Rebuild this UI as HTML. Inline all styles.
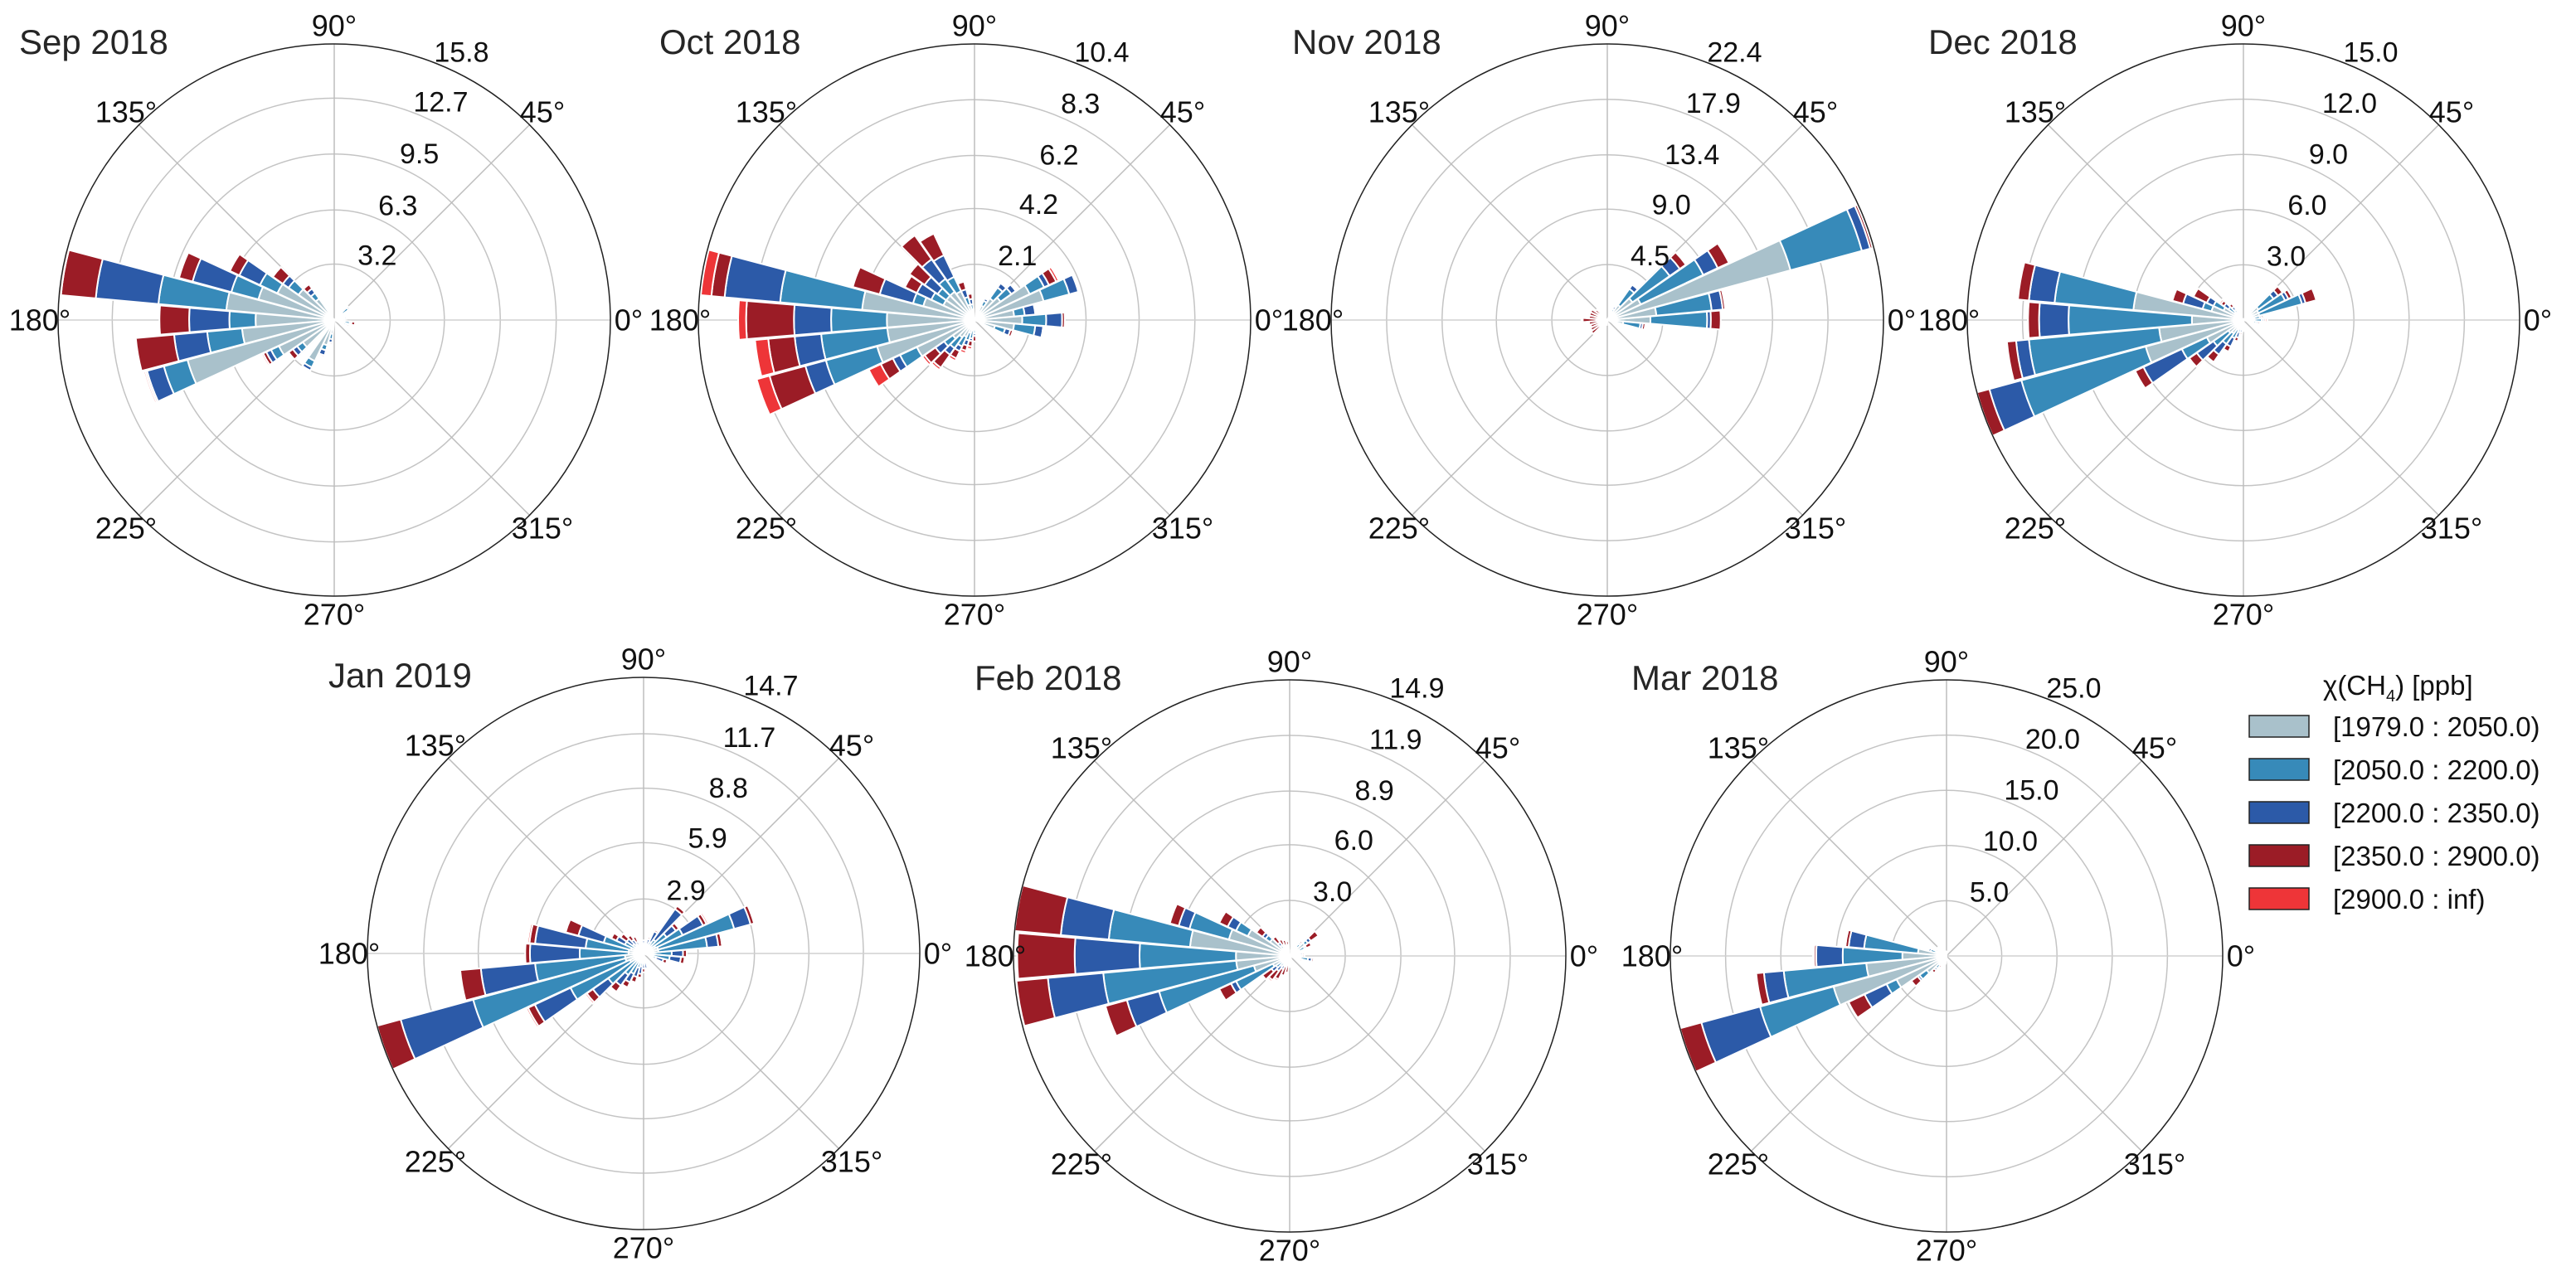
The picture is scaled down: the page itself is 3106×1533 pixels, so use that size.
<!DOCTYPE html>
<html><head><meta charset="utf-8"><style>
html,body{margin:0;padding:0;background:#fff;}
svg{display:block;font-family:"Liberation Sans",sans-serif;}
</style></head><body>
<svg id="chart" width="3106" height="1533" viewBox="0 0 3106 1533" xmlns="http://www.w3.org/2000/svg"></svg>
<script>
// ---- data (direction bins in degrees, stacked frequencies per CH4 class) ----
const sepDirs=[40,130,140,150,160,170,180,190,200,210,220,240,250,260,340,350,10];
const sepC1=[0.6,1.5,2.5,3.6,4.5,6.2,4.5,5.3,8.7,3.5,2.2,2.6,1.5,0.8,0.5,0.6,0.4];
const sepC2=[0.4,0.4,0.7,1.1,1.6,3.9,1.5,2.0,1.4,0.5,0.4,0.4,0.3,0.3,0.2,0.3,0.2];
const sepC3=[0.1,0.3,0.4,1.3,2.3,3.6,2.3,1.9,1.0,0.3,0.3,0.2,0.3,0.2,0.1,0.1,0.1];
const sepC4=[0,0.3,0.7,0.6,0.8,2.0,1.7,2.2,0.1,0.2,0.3,0,0.1,0.1,0.1,0.2,0];
const sepC5=[0,0,0,0,0,0.1,0,0,0.1,0.1,0,0,0,0,0,0,0];

const octDirs=[0,10,20,30,40,50,60,100,110,120,130,140,150,160,170,180,190,200,210,220,230,240,250,260,270,340,350];
const octC1=[1.8,1.5,2.7,2.3,1.2,1.0,0.6,0.4,0.6,1.2,1.3,1.3,1.3,2.0,4.25,3.3,3.3,3.8,2.4,1.0,0.8,0.7,0.5,0.4,0.3,0.8,1.5];
const octC2=[0.9,0.4,1.0,0.6,0.5,0.5,0.2,0.2,0.3,0.6,0.6,0.4,0.5,0.4,3.1,2.1,2.5,2.0,0.7,0.4,0.5,0.4,0.3,0.3,0.2,0.4,0.8];
const octC3=[0.6,0.4,0.35,0.2,0.2,0.2,0.1,0.2,0.3,0.9,0.9,0.6,0.6,1.3,2.1,1.4,1.0,0.8,0.3,0.4,0.3,0.2,0.2,0.1,0.1,0.2,0.3];
const octC4=[0.1,0,0,0.3,0,0,0,0.2,0.3,0.9,1.1,0.7,0.5,1.05,0.5,1.8,1.0,1.4,0.5,0.5,0.6,0.3,0.2,0.2,0.2,0.1,0.05];
const octC5=[0,0,0,0.1,0,0,0,0,0,0,0,0,0,0,0.4,0.3,0.5,0.5,0.5,0.1,0.1,0.1,0.1,0.1,0,0,0];

const novDirs=[0,10,20,30,40,50,60,140,150,160,170,180,190,200,210,220,230,350,340,250,260];
const novC1=[3.5,4.0,15.4,3.0,2.5,1.5,0.5,0.2,0.2,0.2,0.2,0.3,0.2,0.2,0.2,0.2,0.1,1.3,0.4,0.1,0.1];
const novC2=[4.6,4.5,6.0,5.6,3.7,1.6,0.5,0.2,0.2,0.2,0.2,0.3,0.2,0.2,0.2,0.2,0.1,1.4,0.3,0.1,0.1];
const novC3=[0.3,0.9,0.7,1.3,1.0,0.4,0.2,0.2,0.2,0.3,0.3,0.3,0.3,0.2,0.2,0.2,0.1,0.2,0.1,0.1,0.1];
const novC4=[0.8,0.2,0.2,1.0,0.6,0,0,0.6,0.9,0.8,0.8,1.1,0.8,0.8,0.9,1.0,0.5,0.2,0,0.1,0.1];
const novC5=[0,0,0.1,0,0,0,0,0,0,0,0,0.1,0.1,0,0,0,0,0,0,0,0];

const decDirs=[0,10,20,30,40,50,130,140,150,160,170,180,190,200,210,220,230,240,250,260,270,350];
const decC1=[0.6,0.6,0.9,0.9,1.0,0.4,0.4,0.6,1.2,1.8,6.0,2.8,4.6,5.5,2.2,1.0,0.9,0.6,0.4,0.3,0.2,0.4];
const decC2=[0.4,0.3,2.4,1.6,1.0,0.2,0.3,0.4,0.6,0.5,4.3,6.7,7.1,7.0,1.5,1.0,0.7,0.5,0.3,0.2,0.2,0.3];
const decC3=[0.1,0.1,0.2,0.2,0.3,0.1,0.2,0.3,0.4,1.1,1.4,1.6,0.7,1.8,2.3,1.1,0.7,0.5,0.3,0.2,0.1,0.1];
const decC4=[0.1,0.1,0.6,0.2,0.3,0,0.2,0.2,0.8,0.6,0.6,0.6,0.5,0.7,0.5,0.5,0.5,0.3,0.2,0.1,0.1,0.1];
const decC5=[0.1,0,0,0,0,0,0,0.1,0,0,0,0,0,0,0,0,0,0,0,0,0,0];

const janDirs=[0,10,20,30,40,50,60,70,90,120,130,140,150,160,170,180,190,200,210,220,230,240,250,260,270,280,340,350];
const janC1=[0.5,0.8,0.8,0.7,0.5,0.3,0.3,0.2,0.2,0.3,0.3,0.3,0.5,0.7,0.8,0.8,1.0,1.0,0.8,0.5,0.4,0.4,0.3,0.3,0.2,0.2,0.3,0.4];
const janC2=[1.0,2.6,4.2,1.6,1.0,0.6,0.4,0.3,0.3,0.2,0.3,0.4,0.6,1.5,2.3,2.6,4.8,8.4,3.5,1.8,1.0,0.8,0.5,0.4,0.3,0.3,0.4,1.0];
const janC3=[0.6,0.6,0.9,1.2,0.6,2.0,0.6,0.3,0.2,0.2,0.3,0.4,0.5,1.4,2.7,2.65,2.9,4.0,2.1,1.0,0.7,0.5,0.5,0.4,0.3,0.3,0.4,0.6];
const janC4=[0.2,0.2,0.2,0.2,0.2,0.2,0.1,0.1,0,0.3,0.3,0.4,0.3,0.7,0.3,0.25,1.1,1.3,0.4,0.4,0.4,0.3,0.3,0.2,0.2,0,0.2,0.2];
const janC5=[0,0.05,0.05,0.1,0,0,0,0,0,0,0,0,0,0,0.1,0,0,0,0.1,0.1,0,0,0,0,0,0,0,0];

const febDirs=[30,40,50,100,110,120,130,140,150,160,170,180,190,200,210,220,230,240,250,260,270,350,0,10,340,290];
const febC1=[0.6,1.0,0.6,0.3,0.3,0.4,0.5,1.3,2.5,3.4,5.4,2.9,2.9,2.0,1.0,0.5,0.4,0.3,0.2,0.2,0.2,0.6,0.4,0.4,0.3,0.2];
const febC2=[0.3,0.2,0.2,0.2,0.2,0.2,0.2,0.3,0.7,2.2,4.4,5.2,7.2,5.3,2.2,0.4,0.3,0.3,0.2,0.2,0.1,0.4,0.2,0.2,0.2,0.1];
const febC3=[0.1,0.2,0.1,0.1,0.1,0.1,0.2,0.2,0.5,0.6,2.6,3.5,3.0,1.8,0.3,0.3,0.3,0.2,0.2,0.1,0.1,0.2,0.1,0.1,0.1,0.1];
const febC4=[0.3,0.5,0.1,0.2,0.3,0.3,0.4,0.4,0.5,0.5,2.5,3.1,1.7,1.2,0.7,0.6,0.6,0.6,0.5,0.4,0.2,0.1,0.1,0.1,0.1,0.1];
const febC5=[0,0,0,0,0,0,0,0,0,0,0,0,0,0,0,0,0.1,0.1,0,0,0,0,0,0,0,0];

const marDirs=[150,160,170,180,190,200,210,220,230,240,250,260,270,110,120,130,140,90,100];
const marC1=[0.6,1.0,2.6,4.0,7.3,10.6,5.0,2.2,1.0,0.6,0.4,0.3,0.2,0.3,0.3,0.4,0.5,0.2,0.2];
const marC2=[0.3,0.5,4.9,5.4,7.5,6.9,1.0,0.8,0.4,0.3,0.2,0.2,0.1,0.2,0.2,0.2,0.3,0.1,0.1];
const marC3=[0.2,0.2,1.4,2.4,1.8,5.5,2.2,0.2,0.2,0.1,0.1,0.1,0.1,0.1,0.1,0.1,0.2,0.1,0.1];
const marC4=[0.1,0.1,0.3,0.2,0.7,2.0,1.6,0.7,0.3,0.2,0.1,0.1,0,0,0.1,0.1,0.1,0,0];
const marC5=[0,0,0.1,0.1,0,0,0,0,0,0,0,0,0,0,0,0,0,0,0];

// radial tick labels per panel
const sepTicks=["3.2","6.3","9.5","12.7","15.8"];
const octTicks=["2.1","4.2","6.2","8.3","10.4"];
const novTicks=["4.5","9.0","13.4","17.9","22.4"];
const decTicks=["3.0","6.0","9.0","12.0","15.0"];
const janTicks=["2.9","5.9","8.8","11.7","14.7"];
const febTicks=["3.0","6.0","8.9","11.9","14.9"];
const marTicks=["5.0","10.0","15.0","20.0","25.0"];
const angleLabels=["0°","45°","90°","135°","180°","225°","270°","315°"];
const classLabels=["[1979.0 : 2050.0)","[2050.0 : 2200.0)","[2200.0 : 2350.0)","[2350.0 : 2900.0)","[2900.0 : inf)"];
const classColors=["#a9c1cb","#378ab9","#2c5aa8","#9b1c26","#ee3538"];

const NS="http://www.w3.org/2000/svg";
const svg=document.getElementById('chart');
const R=333;
function mk(tag,attrs,parent){const e=document.createElementNS(NS,tag);for(const k in attrs)e.setAttribute(k,attrs[k]);(parent||svg).appendChild(e);return e;}

const panels=[
 {key:"sep",title:"Sep 2018",cx:403,cy:386,ticks:sepTicks,dirs:sepDirs,series:[sepC1,sepC2,sepC3,sepC4,sepC5]},
 {key:"oct",title:"Oct 2018",cx:1175,cy:386,ticks:octTicks,dirs:octDirs,series:[octC1,octC2,octC3,octC4,octC5]},
 {key:"nov",title:"Nov 2018",cx:1938,cy:386,ticks:novTicks,dirs:novDirs,series:[novC1,novC2,novC3,novC4,novC5]},
 {key:"dec",title:"Dec 2018",cx:2705,cy:386,ticks:decTicks,dirs:decDirs,series:[decC1,decC2,decC3,decC4,decC5]},
 {key:"jan",title:"Jan 2019",cx:776,cy:1150,ticks:janTicks,dirs:janDirs,series:[janC1,janC2,janC3,janC4,janC5]},
 {key:"feb",title:"Feb 2018",cx:1555,cy:1153,ticks:febTicks,dirs:febDirs,series:[febC1,febC2,febC3,febC4,febC5]},
 {key:"mar",title:"Mar 2018",cx:2347,cy:1153,ticks:marTicks,dirs:marDirs,series:[marC1,marC2,marC3,marC4,marC5]}
];

function wedge(cx,cy,r0,r1,aDeg,wDeg){
  const a0=(aDeg-wDeg/2)*Math.PI/180,a1=(aDeg+wDeg/2)*Math.PI/180;
  const p=(r,a)=>[cx+r*Math.cos(a),cy-r*Math.sin(a)];
  const [x1,y1]=p(r0,a0),[x2,y2]=p(r1,a0),[x3,y3]=p(r1,a1),[x4,y4]=p(r0,a1);
  return `M${x1},${y1}L${x2},${y2}A${r1},${r1} 0 0 0 ${x3},${y3}L${x4},${y4}A${r0},${r0} 0 0 1 ${x1},${y1}Z`;
}

panels.forEach(P=>{
  const g=mk('g',{});
  
  
  const rmax=parseFloat(P.ticks[P.ticks.length-1]);
  const rs=v=>Math.min(v,rmax*1.01)/rmax*R;
  P.ticks.forEach((t,i)=>{
    const r=rs(parseFloat(t));
    if(i<P.ticks.length-1){
      const c=mk('circle',{cx:P.cx,cy:P.cy,r:r,fill:'none',stroke:'#c4c4c4','stroke-width':1.5},g);
      
      
    }
  });
  for(let k=0;k<8;k++){
    const a=k*45*Math.PI/180;
    const l=mk('line',{x1:P.cx,y1:P.cy,x2:P.cx+R*Math.cos(a),y2:P.cy-R*Math.sin(a),stroke:(k%4===0)?'#d0d0d0':'#bdbdbd','stroke-width':1.5},g);
    
    
  }
  P.dirs.forEach((d,j)=>{
    let acc=0;
    P.series.forEach((s,ci)=>{
      const v=s[j];
      if(v>0){
        const path=mk('path',{d:wedge(P.cx,P.cy,rs(acc),rs(acc+v),d,9.6),fill:classColors[ci],stroke:'#ffffff','stroke-width':2},g);
        
        
      }
      acc+=v;
    });
  });
  const sp=mk('circle',{cx:P.cx,cy:P.cy,r:R,fill:'none',stroke:'#222','stroke-width':1.5},g);
  
  
  angleLabels.forEach((t,k)=>{
    const a=k*45*Math.PI/180;const rr=R+22;
    const tx=mk('text',{x:P.cx+rr*Math.cos(a),y:P.cy-rr*Math.sin(a),'font-size':36,'text-anchor':'middle','dominant-baseline':'central',fill:'#111'},g);
    tx.textContent=t;
    
    
  });
  P.ticks.forEach(t=>{
    const r=rs(parseFloat(t));const a=67.5*Math.PI/180;
    const tx=mk('text',{x:P.cx+r*Math.cos(a)+26,y:P.cy-r*Math.sin(a)-15,'font-size':34,'text-anchor':'middle','dominant-baseline':'central',fill:'#111'},g);
    tx.textContent=t;
    
    
  });
  const ti=mk('text',{x:P.cx-380,y:P.cy-321,'font-size':42,fill:'#262626'},g);
  ti.textContent=P.title;
  
  
});

const lg=mk('g',{});


const lt=mk('text',{x:2801,y:838,'font-size':33,fill:'#111'},lg);


lt.innerHTML='χ(CH<tspan font-size="20" dy="8">4</tspan><tspan dy="-8">) [ppb]</tspan>';
classLabels.forEach((t,i)=>{
  const y=863+i*52;
  const r=mk('rect',{x:2712,y:y,width:72,height:26,fill:classColors[i],stroke:'#222','stroke-width':1.5},lg);
  
  
  const tx=mk('text',{x:2813,y:y+25,'font-size':33,fill:'#111'},lg);
  tx.textContent=t;
  
  
});
</script>
</body></html>
